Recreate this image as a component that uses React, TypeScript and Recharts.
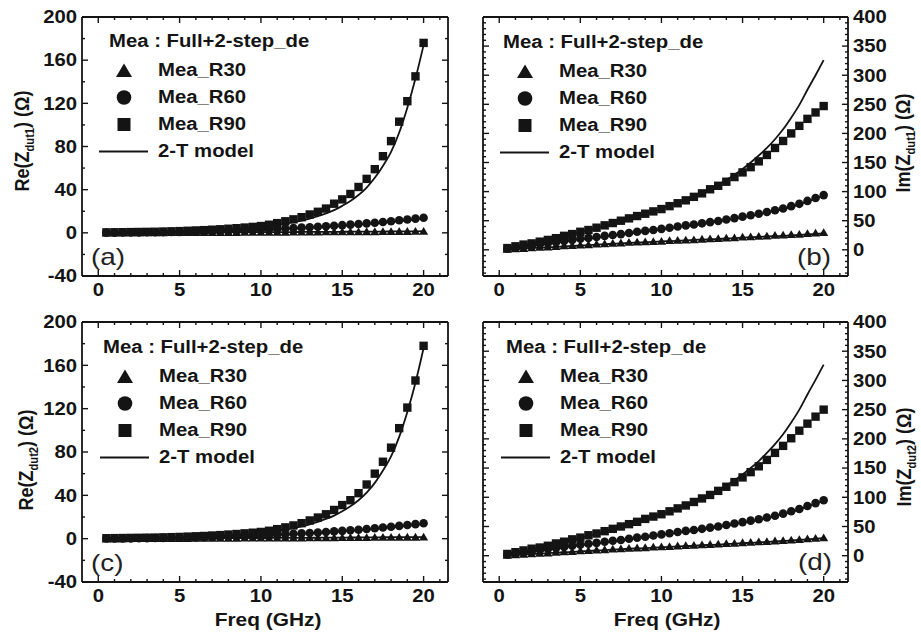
import React from 'react'
import { ComposedChart, Line, XAxis, YAxis, Legend } from 'recharts'

const FONT = '"Liberation Sans", Arial, Helvetica, sans-serif'
const INK = '#141414'
const SX = 1.16 // the reference text is a little stretched horizontally

// ── data ──
const FREQ = [0.5, 1, 1.5, 2, 2.5, 3, 3.5, 4, 4.5, 5, 5.5, 6, 6.5, 7, 7.5, 8, 8.5, 9, 9.5, 10,
  10.5, 11, 11.5, 12, 12.5, 13, 13.5, 14, 14.5, 15, 15.5, 16, 16.5, 17, 17.5, 18, 18.5, 19, 19.5, 20]

// (a) Re(Zdut1)
const RE1_R30 = [0.1, 0.1, 0.1, 0.1, 0.2, 0.2, 0.2, 0.2, 0.3, 0.3, 0.3, 0.4, 0.4, 0.4, 0.5, 0.5, 0.5, 0.6, 0.6, 0.6,
  0.7, 0.7, 0.7, 0.8, 0.8, 0.9, 0.9, 1.0, 1.0, 1.0, 1.1, 1.1, 1.2, 1.2, 1.3, 1.3, 1.4, 1.4, 1.5, 1.5]
const RE1_R60 = [0.2, 0.2, 0.3, 0.3, 0.4, 0.5, 0.6, 0.7, 0.8, 0.9, 1.1, 1.2, 1.4, 1.6, 1.8, 2.0, 2.3, 2.5, 2.8, 3.1,
  3.4, 3.7, 4.0, 4.4, 4.8, 5.2, 5.6, 6.1, 6.6, 7.1, 7.6, 8.2, 8.8, 9.4, 10.1, 10.8, 11.6, 12.4, 13.2, 14.0]
const RE1_R90 = [0.4, 0.5, 0.6, 0.7, 0.8, 0.9, 1.0, 1.2, 1.4, 1.6, 1.9, 2.2, 2.5, 2.9, 3.3, 3.8, 4.3, 4.9, 5.5, 6.3,
  7.5, 9, 10.7, 12.5, 14.5, 17, 19.5, 22.5, 27, 31, 36, 42.5, 50, 59, 71, 85, 103, 122, 145, 176]
const RE1_M30 = [0.1, 0.1, 0.1, 0.1, 0.1, 0.2, 0.2, 0.2, 0.2, 0.3, 0.3, 0.3, 0.4, 0.4, 0.4, 0.5, 0.5, 0.5, 0.6, 0.6,
  0.6, 0.7, 0.7, 0.7, 0.8, 0.8, 0.9, 0.9, 0.9, 1.0, 1.0, 1.1, 1.1, 1.2, 1.2, 1.3, 1.3, 1.4, 1.4, 1.5]
const RE1_M60 = [0.2, 0.2, 0.3, 0.3, 0.4, 0.5, 0.5, 0.6, 0.7, 0.8, 1.0, 1.1, 1.3, 1.5, 1.7, 1.9, 2.1, 2.4, 2.6, 2.9,
  3.2, 3.5, 3.8, 4.2, 4.5, 4.9, 5.3, 5.8, 6.2, 6.7, 7.2, 7.7, 8.3, 8.9, 9.5, 10.2, 10.9, 11.7, 12.5, 13.3]
const RE1_M90 = [0.3, 0.4, 0.5, 0.6, 0.7, 0.8, 0.9, 1.1, 1.3, 1.5, 1.7, 2.0, 2.3, 2.7, 3.1, 3.5, 4.0, 4.5, 5.1, 5.8,
  6.6, 7.5, 8.6, 9.9, 11.4, 13.2, 15.4, 18, 21, 25, 29.5, 35, 42, 51, 62, 75, 93, 116, 143, 174]

// (b) Im(Zdut1)
const IM1_R30 = [1, 2, 2.5, 3.5, 4.5, 5, 6, 7, 7.5, 8.5, 9, 10, 10.5, 11.5, 12, 13, 13.5, 14, 14.5, 15,
  16, 16.5, 17, 17.5, 18.5, 19, 19.5, 20.5, 21, 22, 22.5, 23.5, 24, 25, 25.5, 26.5, 27, 28, 29, 30]
const IM1_R60 = [2, 4, 6, 8, 10, 11.5, 13, 15, 17, 19, 20.5, 22, 24, 25.5, 27, 29, 31, 32.5, 34, 36,
  38, 40, 42, 43.5, 45.5, 47.5, 49.5, 52, 54.5, 57, 59.5, 62, 65, 68, 71, 75, 79, 84, 89, 94]
const IM1_R90 = [3, 6, 9, 11, 14, 17, 20, 24, 27, 31, 34, 38, 42, 46, 50, 54, 58, 62, 66, 70,
  75, 80, 85, 91, 97, 104, 110, 117, 125, 133, 142, 152, 163, 175, 187, 200, 213, 225, 236, 247]
const IM1_M30 = [0.5, 1.5, 2, 3, 3.5, 4.5, 5, 6, 6.5, 7.5, 8, 9, 9.5, 10.5, 11, 12, 12.5, 13, 13.5, 14.5,
  15, 15.5, 16, 17, 17.5, 18, 18.5, 19.5, 20, 21, 21.5, 22, 23, 23.5, 24, 25, 25.5, 26.5, 27, 28]
const IM1_M60 = [2, 3.5, 5.5, 7.5, 9, 11, 12.5, 14.5, 16, 18, 19.5, 21, 23, 24.5, 26, 28, 30, 31.5, 33, 35,
  37, 39, 41, 42.5, 44.5, 46.5, 48.5, 51, 53.5, 56, 58.5, 61, 64, 67, 70, 74, 78, 83, 88, 93]
const IM1_M90 = [3, 6, 8, 11, 14, 17, 20, 23, 27, 30, 34, 37, 41, 45, 49, 53, 57, 62, 66, 71,
  76, 81, 86, 92, 98, 105, 112, 120, 129, 139, 150, 162, 175, 190, 207, 227, 249, 275, 300, 326]

// (c) Re(Zdut2)
const RE2_R30 = [0.1, 0.1, 0.1, 0.2, 0.2, 0.2, 0.2, 0.3, 0.3, 0.3, 0.3, 0.4, 0.4, 0.4, 0.5, 0.5, 0.5, 0.6, 0.6, 0.6,
  0.7, 0.7, 0.8, 0.8, 0.8, 0.9, 0.9, 1.0, 1.0, 1.1, 1.1, 1.2, 1.2, 1.3, 1.3, 1.4, 1.4, 1.5, 1.5, 1.6]
const RE2_R60 = [0.2, 0.2, 0.3, 0.3, 0.4, 0.5, 0.6, 0.7, 0.8, 0.9, 1.1, 1.2, 1.4, 1.6, 1.8, 2.0, 2.3, 2.5, 2.8, 3.1,
  3.4, 3.7, 4.1, 4.5, 4.9, 5.3, 5.7, 6.2, 6.7, 7.2, 7.7, 8.3, 8.9, 9.6, 10.3, 11.0, 11.8, 12.6, 13.4, 14.2]
const RE2_R90 = [0.4, 0.5, 0.6, 0.7, 0.8, 0.9, 1.0, 1.2, 1.4, 1.6, 1.9, 2.2, 2.5, 2.9, 3.3, 3.8, 4.3, 4.9, 5.5, 6.2,
  7.3, 8.8, 10.4, 12.2, 14.3, 16.8, 19.5, 22.5, 26.5, 31, 35.5, 42, 50, 60, 71, 84, 102, 121, 146, 178]
const RE2_M30 = [0.1, 0.1, 0.1, 0.1, 0.1, 0.2, 0.2, 0.2, 0.2, 0.3, 0.3, 0.3, 0.4, 0.4, 0.4, 0.5, 0.5, 0.5, 0.6, 0.6,
  0.6, 0.7, 0.7, 0.8, 0.8, 0.8, 0.9, 0.9, 1.0, 1.0, 1.1, 1.1, 1.2, 1.2, 1.3, 1.3, 1.4, 1.4, 1.5, 1.5]
const RE2_M60 = [0.2, 0.2, 0.3, 0.3, 0.4, 0.5, 0.5, 0.6, 0.7, 0.8, 1.0, 1.1, 1.3, 1.5, 1.7, 1.9, 2.1, 2.4, 2.6, 2.9,
  3.2, 3.5, 3.9, 4.2, 4.6, 5.0, 5.4, 5.9, 6.3, 6.8, 7.3, 7.9, 8.5, 9.1, 9.7, 10.4, 11.1, 11.9, 12.7, 13.5]
const RE2_M90 = [0.3, 0.4, 0.5, 0.6, 0.7, 0.8, 0.9, 1.1, 1.3, 1.5, 1.7, 2.0, 2.3, 2.7, 3.1, 3.5, 4.0, 4.5, 5.1, 5.8,
  6.6, 7.5, 8.6, 9.9, 11.4, 13.3, 15.5, 18.2, 21.3, 25.3, 30, 35.5, 42.5, 51.5, 63, 76, 94, 117, 144, 176]

// (d) Im(Zdut2)
const IM2_R30 = [1, 2, 2.5, 3.5, 4.5, 5, 6, 7, 7.5, 8.5, 9, 10, 10.5, 11.5, 12, 13, 13.5, 14, 15, 15.5,
  16, 17, 17.5, 18, 19, 19.5, 20, 21, 21.5, 22.5, 23, 24, 24.5, 25.5, 26, 27, 28, 29, 30, 31]
const IM2_R60 = [2, 4, 6, 8, 10, 11.5, 13, 15, 17, 19, 20.5, 22, 24, 25.5, 27, 29, 31, 32.5, 34.5, 36.5,
  38.5, 40.5, 42.5, 44, 46, 48, 50, 52.5, 55, 57.5, 60, 62.5, 65.5, 68.5, 72, 76, 80, 85, 90, 95]
const IM2_R90 = [3, 6, 9, 12, 14, 17, 21, 24, 28, 31, 35, 38, 42, 46, 50, 54, 58, 63, 67, 71,
  76, 81, 86, 92, 98, 104, 111, 118, 126, 134, 143, 153, 164, 176, 188, 201, 214, 226, 238, 250]
const IM2_M30 = [0.5, 1.5, 2, 3, 3.5, 4.5, 5, 6, 6.5, 7.5, 8, 9, 9.5, 10.5, 11, 12, 12.5, 13, 14, 14.5,
  15, 16, 16.5, 17, 18, 18.5, 19, 20, 20.5, 21.5, 22, 23, 23.5, 24.5, 25, 26, 27, 28, 29, 30]
const IM2_M60 = [2, 3.5, 5.5, 7.5, 9, 11, 12.5, 14.5, 16, 18, 19.5, 21, 23, 24.5, 26, 28, 30, 31.5, 33.5, 35.5,
  37.5, 39.5, 41.5, 43, 45, 47, 49, 51.5, 54, 56.5, 59, 61.5, 64.5, 67.5, 71, 75, 79, 84, 89, 94]
const IM2_M90 = [3, 6, 8, 11, 14, 17, 20, 23, 27, 30, 34, 37, 41, 45, 49, 53, 57, 62, 66, 71,
  76, 81, 86, 92, 98, 105, 112, 120, 129, 139, 150, 162, 176, 191, 208, 228, 250, 276, 301, 327]

// ── axes ──
const X_DOMAIN: [number, number] = [-1, 21.5]
const X_MAJOR = [0, 5, 10, 15, 20]
const X_MINOR = [1, 2, 3, 4, 6, 7, 8, 9, 11, 12, 13, 14, 16, 17, 18, 19, 21]
const RE_MAJOR = [-40, 0, 40, 80, 120, 160, 200]
const RE_MINOR = [-20, 20, 60, 100, 140, 180]
const IM_MAJOR = [0, 50, 100, 150, 200, 250, 300, 350, 400]
const IM_MINOR = [-40, -30, -20, -10, 10, 20, 30, 40, 60, 70, 80, 90, 110, 120, 130, 140, 160, 170, 180, 190,
  210, 220, 230, 240, 260, 270, 280, 290, 310, 320, 330, 340, 360, 370, 380, 390]

const FRAME = { stroke: INK, strokeWidth: 1.8 }

type Orient = 'bottom' | 'top' | 'left' | 'right'

const axisTick = (orient: Orient, labelled: boolean, majors: number[]) => (p: any) => {
  const v = p.payload?.value
  const major = majors.includes(v)
  const len = major ? 6 : 3
  const x = p.x
  const y = p.y
  let x2 = x
  let y2 = y
  if (orient === 'bottom') y2 = y - len
  if (orient === 'top') y2 = y + len
  if (orient === 'left') x2 = x + len
  if (orient === 'right') x2 = x - len
  let label = null
  if (labelled && major) {
    let tx = x
    let ty = y
    let anchor: 'start' | 'middle' | 'end' = 'middle'
    if (orient === 'bottom') ty = y + 14
    if (orient === 'left') { tx = x - 5; anchor = 'end' }
    if (orient === 'right') { tx = x + 5; anchor = 'start' }
    label = (
      <text transform={`translate(${tx},${ty}) scale(${SX},1)`} textAnchor={anchor} dy="0.36em"
        fontFamily={FONT} fontWeight={700} fontSize={17.5} fill={INK}>
        {String(v)}
      </text>
    )
  }
  return (
    <g>
      <line x1={x} y1={y} x2={x2} y2={y2} stroke={INK} strokeWidth={1.4} />
      {label}
    </g>
  )
}

// ── markers ──
const triDot = (p: any) => {
  if (p.cx == null || p.cy == null) return <g key={p.index} />
  return <polygon key={p.index} points={`${p.cx - 4.6},${p.cy + 3.6} ${p.cx + 4.6},${p.cy + 3.6} ${p.cx},${p.cy - 4.2}`} fill={INK} />
}
const circDot = (p: any) => {
  if (p.cx == null || p.cy == null) return <g key={p.index} />
  return <circle key={p.index} cx={p.cx} cy={p.cy} r={4.3} fill={INK} />
}
const sqDot = (p: any) => {
  if (p.cx == null || p.cy == null) return <g key={p.index} />
  return <rect key={p.index} x={p.cx - 4.2} y={p.cy - 4.2} width={8.4} height={8.4} fill={INK} />
}

const LEGEND_ITEMS = [
  { name: 'Mea_R30', kind: 'tri' },
  { name: 'Mea_R60', kind: 'circ' },
  { name: 'Mea_R90', kind: 'sq' },
  { name: '2-T model', kind: 'line' },
]

function LegendIcon({ kind }: { kind: string }) {
  return (
    <svg width={52} height={27} style={{ display: 'block', flex: 'none' }}>
      {kind === 'tri' && <polygon points="18,20 34,20 26,6.5" fill={INK} />}
      {kind === 'circ' && <circle cx={26} cy={13.5} r={7.3} fill={INK} />}
      {kind === 'sq' && <rect x={19.5} y={7} width={13} height={13} fill={INK} />}
      {kind === 'line' && <line x1={1} y1={13.5} x2={50} y2={13.5} stroke={INK} strokeWidth={1.8} />}
    </svg>
  )
}

function LegendBox({ indent }: { indent: number }) {
  const txt: React.CSSProperties = {
    display: 'inline-block', transform: `scaleX(${SX})`, transformOrigin: 'left center', whiteSpace: 'nowrap',
  }
  return (
    <div style={{ fontFamily: FONT, fontWeight: 700, fontSize: 17.5, color: INK, width: 260 }}>
      <div style={{ height: 31, lineHeight: '31px', paddingLeft: indent }}>
        <span style={txt}>Mea : Full+2-step_de</span>
      </div>
      {LEGEND_ITEMS.map((it) => (
        <div key={it.name} style={{ height: 27, display: 'flex', alignItems: 'center' }}>
          <LegendIcon kind={it.kind} />
          <span style={{ ...txt, marginLeft: 8, lineHeight: '27px' }}>{it.name}</span>
        </div>
      ))}
    </div>
  )
}

type Row = { f: number; r30: number; r60: number; r90: number; m30: number; m60: number; m90: number }

const buildRows = (r30: number[], r60: number[], r90: number[], m30: number[], m60: number[], m90: number[]): Row[] =>
  FREQ.map((f, i) => ({ f, r30: r30[i], r60: r60[i], r90: r90[i], m30: m30[i], m60: m60[i], m90: m90[i] }))

type PanelCfg = {
  left: number; top: number; width: number; height: number
  side: 'left' | 'right'
  yWidth: number
  margin: { top: number; right: number; left: number; bottom: number }
  axisH: number
  yDomain: [number, number]
  yMajor: number[]; yMinor: number[]
  rows: Row[]
  legend: { left: number; top: number; indent: number }
}

const PANELS: PanelCfg[] = [
  {
    left: 0, top: 0, width: 460, height: 300, side: 'left', yWidth: 82,
    margin: { top: 17, right: 12, left: 0, bottom: 0 }, axisH: 24,
    yDomain: [-40, 200], yMajor: RE_MAJOR, yMinor: RE_MINOR,
    rows: buildRows(RE1_R30, RE1_R60, RE1_R90, RE1_M30, RE1_M60, RE1_M90),
    legend: { left: 98, top: 25.5, indent: 11 },
  },
  {
    left: 460, top: 0, width: 461, height: 300, side: 'right', yWidth: 73,
    margin: { top: 17, right: 0, left: 23, bottom: 0 }, axisH: 24,
    yDomain: [-45, 400], yMajor: IM_MAJOR, yMinor: IM_MINOR,
    rows: buildRows(IM1_R30, IM1_R60, IM1_R90, IM1_M30, IM1_M60, IM1_M90),
    legend: { left: 39, top: 26.5, indent: 4 },
  },
  {
    left: 0, top: 305, width: 460, height: 330, side: 'left', yWidth: 82,
    margin: { top: 17, right: 12, left: 0, bottom: 0 }, axisH: 53,
    yDomain: [-40, 200], yMajor: RE_MAJOR, yMinor: RE_MINOR,
    rows: buildRows(RE2_R30, RE2_R60, RE2_R90, RE2_M30, RE2_M60, RE2_M90),
    legend: { left: 99, top: 26.5, indent: 4 },
  },
  {
    left: 460, top: 305, width: 461, height: 330, side: 'right', yWidth: 73,
    margin: { top: 17, right: 0, left: 23, bottom: 0 }, axisH: 53,
    yDomain: [-45, 400], yMajor: IM_MAJOR, yMinor: IM_MINOR,
    rows: buildRows(IM2_R30, IM2_R60, IM2_R90, IM2_M30, IM2_M60, IM2_M90),
    legend: { left: 40, top: 26.5, indent: 6 },
  },
]

function Panel({ cfg }: { cfg: PanelCfg }) {
  const xTicks = [...X_MAJOR, ...X_MINOR]
  const yTicks = [...cfg.yMajor, ...cfg.yMinor]
  const other = cfg.side === 'left' ? 'right' : 'left'
  return (
    <div style={{ position: 'absolute', left: cfg.left, top: cfg.top }}>
      <ComposedChart width={cfg.width} height={cfg.height} data={cfg.rows} margin={cfg.margin}>
        <XAxis xAxisId="b" dataKey="f" type="number" domain={X_DOMAIN} ticks={xTicks} interval={0}
          allowDataOverflow height={cfg.axisH} tickSize={0} tickMargin={0} tickLine={false}
          axisLine={FRAME} tick={axisTick('bottom', true, X_MAJOR)} />
        <XAxis xAxisId="t" orientation="top" mirror dataKey="f" type="number" domain={X_DOMAIN} ticks={xTicks}
          interval={0} allowDataOverflow tickSize={0} tickMargin={0} tickLine={false}
          axisLine={FRAME} tick={axisTick('top', false, X_MAJOR)} />
        <YAxis yAxisId="v" orientation={cfg.side} width={cfg.yWidth} type="number" domain={cfg.yDomain}
          ticks={yTicks} interval={0} allowDataOverflow tickSize={0} tickMargin={0} tickLine={false}
          axisLine={FRAME} tick={axisTick(cfg.side, true, cfg.yMajor)} />
        <YAxis yAxisId="o" orientation={other} mirror type="number" domain={cfg.yDomain}
          ticks={yTicks} interval={0} allowDataOverflow tickSize={0} tickMargin={0} tickLine={false}
          axisLine={FRAME} tick={axisTick(other, false, cfg.yMajor)} />

        <Line xAxisId="b" yAxisId="v" type="monotone" dataKey="m30" stroke={INK} strokeWidth={1.8} dot={false} activeDot={false} isAnimationActive={false} />
        <Line xAxisId="b" yAxisId="v" type="monotone" dataKey="m60" stroke={INK} strokeWidth={1.8} dot={false} activeDot={false} isAnimationActive={false} />
        <Line xAxisId="b" yAxisId="v" type="monotone" dataKey="m90" stroke={INK} strokeWidth={1.8} dot={false} activeDot={false} isAnimationActive={false} />

        <Line xAxisId="b" yAxisId="v" dataKey="r30" stroke="none" dot={triDot} activeDot={false} isAnimationActive={false} />
        <Line xAxisId="b" yAxisId="v" dataKey="r60" stroke="none" dot={circDot} activeDot={false} isAnimationActive={false} />
        <Line xAxisId="b" yAxisId="v" dataKey="r90" stroke="none" dot={sqDot} activeDot={false} isAnimationActive={false} />

        <Legend layout="vertical" align="center" verticalAlign="middle"
          wrapperStyle={{ left: cfg.legend.left, top: cfg.legend.top, width: 260 }}
          content={() => <LegendBox indent={cfg.legend.indent} />} />
      </ComposedChart>
    </div>
  )
}

const LETTERS = [
  { t: '(a)', x: 91, y: 257 },
  { t: '(b)', x: 797, y: 257 },
  { t: '(c)', x: 91, y: 563 },
  { t: '(d)', x: 798, y: 562 },
]

const Y_LABELS = [
  { pre: 'Re(Z', sub: 'dut1', x: 24, y: 141 },
  { pre: 'Im(Z', sub: 'dut1', x: 905, y: 143 },
  { pre: 'Re(Z', sub: 'dut2', x: 28, y: 460 },
  { pre: 'Im(Z', sub: 'dut2', x: 906, y: 457 },
]

const X_LABELS = [
  { x: 268, y: 620 },
  { x: 667, y: 620 },
]

export default function App() {
  const bold: React.CSSProperties = { fontFamily: FONT, fontWeight: 700, fontSize: 18, color: INK, whiteSpace: 'nowrap' }
  return (
    <div style={{ position: 'absolute', left: 0, top: 0, width: 921, height: 635, background: '#fff', overflow: 'hidden' }}>
      {PANELS.map((p, i) => <Panel key={i} cfg={p} />)}

      {LETTERS.map((l) => (
        <div key={l.t} style={{
          position: 'absolute', left: l.x, top: l.y, transform: `translateY(-50%) scaleX(${SX})`, transformOrigin: 'left center',
          fontFamily: FONT, fontSize: 24, color: '#222', lineHeight: 1, whiteSpace: 'nowrap',
        }}>{l.t}</div>
      ))}

      {Y_LABELS.map((l, i) => (
        <div key={i} style={{
          ...bold, position: 'absolute', left: l.x, top: l.y, lineHeight: 1,
          transform: `translate(-50%, -50%) rotate(-90deg) scaleY(${SX})`,
        }}>
          {l.pre}<span style={{ fontSize: '0.62em', verticalAlign: '-0.35em' }}>{l.sub}</span>) (Ω)
        </div>
      ))}

      {X_LABELS.map((l, i) => (
        <div key={i} style={{
          ...bold, position: 'absolute', left: l.x, top: l.y, lineHeight: 1,
          transform: `translate(-50%, -50%) scaleX(${SX})`,
        }}>Freq (GHz)</div>
      ))}
    </div>
  )
}
